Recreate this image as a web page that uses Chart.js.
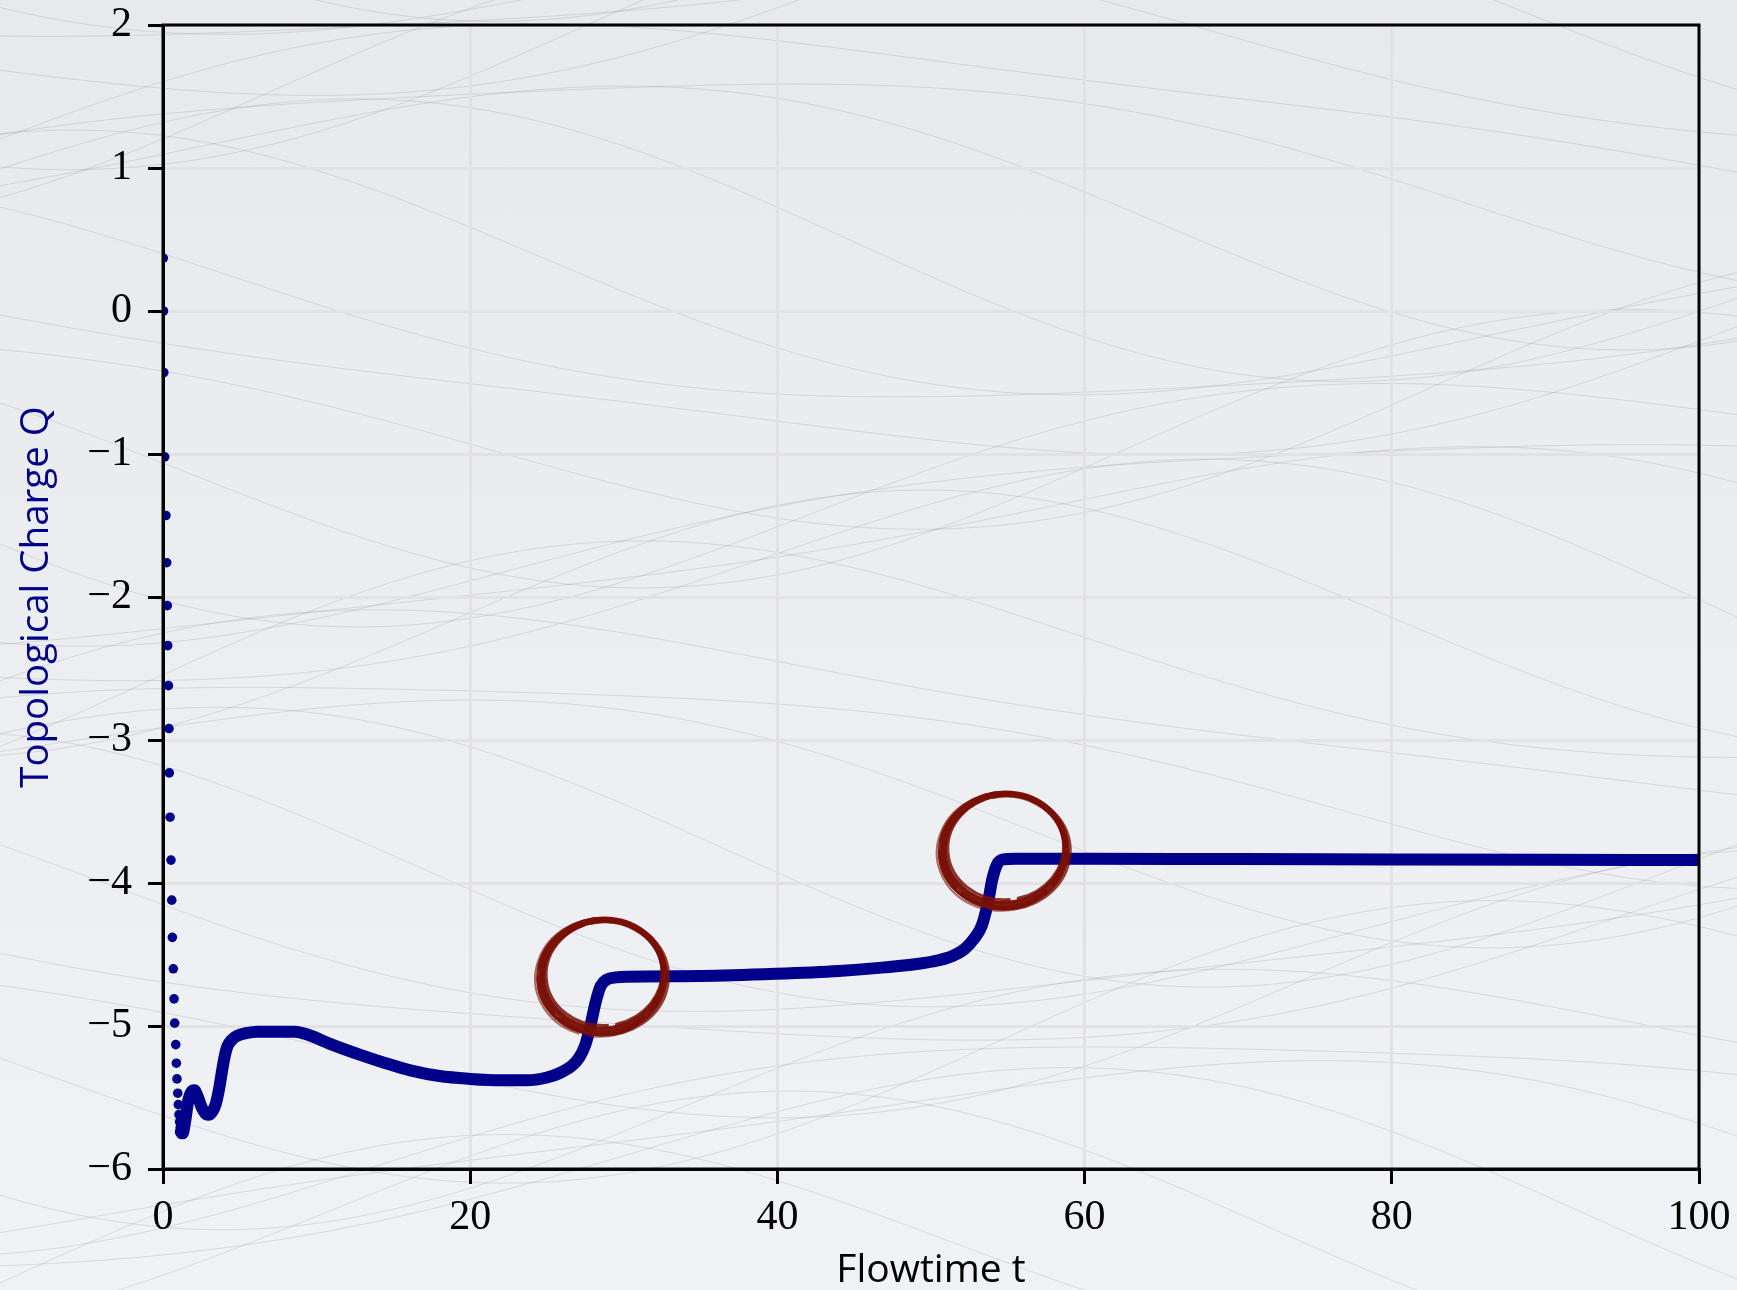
<!DOCTYPE html>
<html>
<head>
<meta charset="utf-8">
<script src="https://cdn.jsdelivr.net/npm/chart.js@4.4.0/dist/chart.umd.min.js"></script>
<style>
  html, body { margin: 0; padding: 0; }
  body { width: 1737px; height: 1290px; overflow: hidden; background: linear-gradient(#e8e9ed, #f1f2f5); }
  #wrap { position: relative; width: 1737px; height: 1290px; }
  #bg, #chart { position: absolute; left: 0; top: 0; }
</style>
</head>
<body>
<div id="wrap">
  <canvas id="bg" width="1737" height="1290"></canvas>
  <canvas id="chart" width="1737" height="1290"></canvas>
</div>
<script>
// early samples, shown as separate dots
const dotT = [0.02, 0.03, 0.05, 0.11, 0.19, 0.24, 0.28, 0.31, 0.35, 0.39, 0.41, 0.46, 0.52, 0.57,
  0.61, 0.67, 0.72, 0.76, 0.83, 0.87, 0.91, 0.96, 1.00, 1.04, 1.08, 1.12, 1.16];
const dotQ = [0.37, 0.0, -0.43, -1.02, -1.43, -1.76, -2.06, -2.34, -2.62, -2.92, -3.23, -3.54, -3.84, -4.12,
  -4.38, -4.60, -4.81, -4.98, -5.13, -5.26, -5.37, -5.47, -5.55, -5.62, -5.67, -5.71, -5.74];

// rest of the flow, dense enough to look like a thick line
const flowT = [1.16, 1.22, 1.28, 1.36, 1.48, 1.65, 1.85, 2.04, 2.25, 2.52, 2.75, 2.95, 3.2, 3.45, 3.65, 3.82,
  4.0, 4.2, 4.45, 4.8, 5.4, 6.2, 7.4, 8.6, 9.4, 11.0, 12.8, 14.5, 16.1, 18.0, 20.0, 22.0, 23.7, 25.0, 25.8,
  26.6, 27.1, 27.5, 27.8, 28.2, 28.5, 28.9, 29.5, 30.2, 35, 39.9, 44, 47, 49.2, 50.5, 51.4, 52.2, 52.8,
  53.3, 53.7, 54.0, 54.3, 54.7, 55.5, 60, 70, 80, 90, 100];
const flowQ = [-5.74, -5.75, -5.75, -5.72, -5.64, -5.52, -5.46, -5.45, -5.49, -5.57, -5.61, -5.62, -5.60, -5.54,
  -5.44, -5.33, -5.22, -5.14, -5.10, -5.07, -5.05, -5.04, -5.04, -5.04, -5.06, -5.13, -5.20, -5.26, -5.31,
  -5.35, -5.37, -5.38, -5.38, -5.36, -5.33, -5.28, -5.22, -5.13, -5.01, -4.82, -4.72, -4.675, -4.66, -4.655,
  -4.65, -4.635, -4.615, -4.59, -4.565, -4.54, -4.51, -4.46, -4.39, -4.30, -4.14, -3.97, -3.87, -3.835,
  -3.83, -3.83, -3.833, -3.835, -3.837, -3.84];

// circled transitions
const markT = [28.65, 54.8];
const markQ = [-4.64, -3.76];

const xTicks = [0, 20, 40, 60, 80, 100];
const yTicks = [-6, -5, -4, -3, -2, -1, 0, 1, 2];

const BLUE = "#00008b";
const INK = "rgb(120, 16, 6)";

// ---------- BACKGROUND TEXTURE ----------
function drawBackground() {
  const c = document.getElementById("bg").getContext("2d");
  c.strokeStyle = "rgba(120, 120, 130, 0.2)";
  c.lineWidth = 1;
  for (let k = 0; k < 36; k++) {
    c.beginPath();
    for (let x = -20; x <= 1760; x += 8) {
      const y = k * 40 - 120 + 110 * Math.sin(x / 380 + k * 0.45) + 40 * Math.sin(x / 240 + k * 1.7);
      if (x === -20) c.moveTo(x, y); else c.lineTo(x, y);
    }
    c.stroke();
  }
}

// ---------- FRAME + INK CIRCLES ----------
const framePlugin = {
  id: "frame",
  afterDraw(chart) {
    const { ctx, chartArea: a, scales } = chart;
    ctx.save();
    ctx.strokeStyle = "#000";
    ctx.lineWidth = 3;
    ctx.strokeRect(a.left, a.top, a.right - a.left, a.bottom - a.top);

    ctx.strokeStyle = INK;
    ctx.lineCap = "round";
    markT.forEach((t, i) => {
      const px = scales.x.getPixelForValue(t);
      const py = scales.y.getPixelForValue(markQ[i]);
      // a few offset strokes to get a brushed ring
      const passes = [
        [0, 0, 0, 6, 0.95, 0.2],
        [-2, 2, 2, 4, 0.9, 0.9],
        [1, -1, -3, 3, 0.85, 1.6],
        [2, 3, 2, 4, 0.8, 2.6],
        [-1, 2, 3, 3, 0.85, 3.4],
        [0, 1, -2, 2, 0.7, 4.6],
        [-3, 3, 4, 2, 0.6, 2.0],
      ];
      passes.forEach(([dx, dy, dr, w, al, st]) => {
        ctx.globalAlpha = al;
        ctx.lineWidth = w;
        ctx.beginPath();
        ctx.ellipse(px + dx, py + dy, 61 + dr, 55 + dr, -0.1, st, st + Math.PI * 1.95);
        ctx.stroke();
      });
    });
    ctx.restore();
  },
};

const tickFont = { family: "Liberation Serif", size: 42 };
const gridOpts = { color: "#e2e2e4", lineWidth: 3, tickColor: "#000", tickWidth: 3, tickLength: 15 };

drawBackground();

new Chart(document.getElementById("chart").getContext("2d"), {
  type: "scatter",
  data: {
    datasets: [
      {
        data: dotT.map((t, i) => ({ x: t, y: dotQ[i] })),
        showLine: false,
        pointRadius: 4.8,
        pointBackgroundColor: BLUE,
        pointBorderWidth: 0,
      },
      {
        data: flowT.map((t, i) => ({ x: t, y: flowQ[i] })),
        showLine: true,
        pointRadius: 0,
        borderColor: BLUE,
        borderWidth: 12,
        borderCapStyle: "round",
        borderJoinStyle: "round",
        cubicInterpolationMode: "monotone",
      },
    ],
  },
  options: {
    responsive: false,
    animation: false,
    layout: { padding: { left: 0, right: 38, top: 25, bottom: 0 } },
    plugins: { legend: { display: false }, tooltip: { enabled: false } },
    scales: {
      x: {
        type: "linear",
        min: 0,
        max: 100,
        z: 1,
        afterBuildTicks: (s) => { s.ticks = xTicks.map((v) => ({ value: v })); },
        afterFit: (s) => { s.height = 121; s.paddingLeft = 0; s.paddingRight = 0; },
        ticks: { font: tickFont, color: "#000", padding: 9, autoSkip: false, maxRotation: 0 },
        grid: gridOpts,
        border: { color: "#000", width: 3 },
        title: {
          display: true,
          text: "Flowtime t",
          color: "#000",
          font: { family: "Open Sans", size: 39, lineHeight: 1 },
          padding: 0,
        },
      },
      y: {
        min: -6,
        max: 2,
        z: 1,
        afterBuildTicks: (s) => { s.ticks = yTicks.map((v) => ({ value: v })); },
        afterFit: (s) => { s.width = 163; s.paddingTop = 0; s.paddingBottom = 0; },
        ticks: {
          font: tickFont,
          color: "#000",
          padding: 16,
          autoSkip: false,
          callback: (v) => (v < 0 ? "\u2212" + Math.abs(v) : String(v)),
        },
        grid: gridOpts,
        border: { color: "#000", width: 3 },
        title: {
          display: true,
          text: "Topological Charge Q",
          color: BLUE,
          font: { family: "Open Sans", size: 38.5, lineHeight: 1 },
          padding: { top: 18, bottom: 0 },
        },
      },
    },
  },
  plugins: [framePlugin],
});
</script>
</body>
</html>
